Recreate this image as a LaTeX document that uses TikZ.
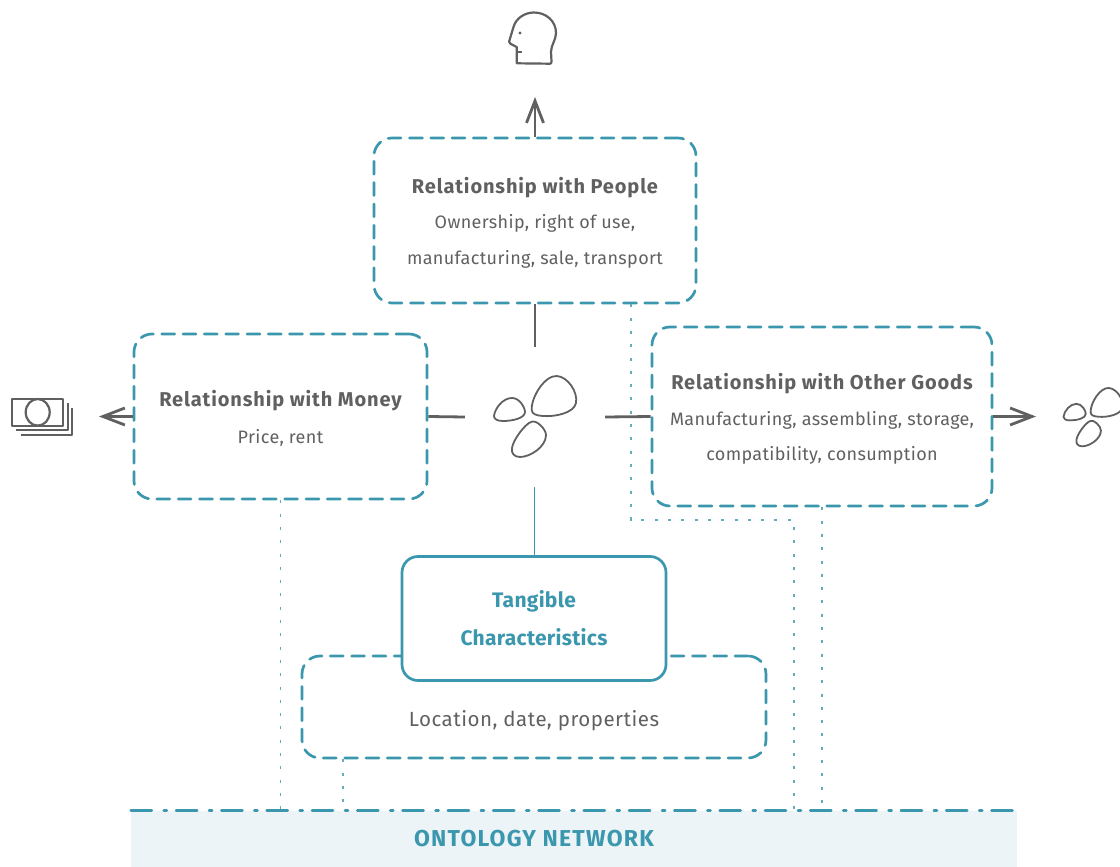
\documentclass[tikz,border=0pt]{standalone}
\usepackage{fontspec}
\setmainfont{Fira Sans}
\newfontfamily\bodyf[LetterSpace=2.0]{Fira Sans}
\newfontfamily\titlef[LetterSpace=4.4]{Fira Sans}
\newfontfamily\tangf[LetterSpace=1.4]{Fira Sans}
\newfontfamily\bandf[LetterSpace=5.4]{Fira Sans}
\newfontfamily\locf[LetterSpace=2.5]{Fira Sans}
\newcommand{\boxtitle}[1]{{\fontsize{20}{35.5}\titlef\bfseries #1}}
\usetikzlibrary{arrows.meta,calc}
\definecolor{teal1}{HTML}{3B97AE}
\definecolor{ink}{HTML}{606060}
\definecolor{bandfill}{HTML}{ECF4F7}
\tikzset{
  x=1pt,y=-1pt,
  dashbox/.style={draw=teal1,line width=2.7pt,rounded corners=18pt,dash pattern=on 13pt off 8.3pt,line cap=round,inner sep=0pt},
  boxtext/.style={align=center,text=ink,font=\fontsize{18}{35.5}\selectfont\bodyf,inner sep=0pt},
  solidbox/.style={draw=teal1,fill=white,line width=2.7pt,rounded corners=16pt,align=center,text=teal1,font=\fontsize{21}{38}\selectfont\tangf\bfseries,inner sep=0pt},
  grayline/.style={draw=ink,line width=2.8pt},
  grayarrow/.style={grayline,-{Straight Barb[length=22pt,width=17pt,line width=2.8pt]}},
  dotline/.style={draw=teal1!80,line width=1.2pt,dash pattern=on 3pt off 10.3pt},
  tealline/.style={draw=teal1,line width=1pt},
  bandedge/.style={draw=teal1,line width=2.7pt,line cap=round,dash pattern=on 21pt off 12pt on 3pt off 9.3pt},
  iconline/.style={draw=ink,line width=1.8pt,line join=round},
  labeltext/.style={text=ink,font=\fontsize{20.5}{24}\selectfont\locf,inner sep=0pt},
  bandtext/.style={text=teal1,font=\fontsize{23}{26}\selectfont\bandf\bfseries,inner sep=0pt},
  pics/stones/.style={code={
    \draw[iconline] (-3.3,-7) .. controls (-4,-20) and (10,-42) .. (22,-41) .. controls (33,-40) and (43,-25) .. (41,-14) .. controls (39,-4) and (20,0) .. (8,-1) .. controls (1,-1.5) and (-3,-3) .. (-3.3,-7) -- cycle;
    \draw[iconline] (-41,-1) .. controls (-40,-9) and (-32,-19) .. (-23,-19) .. controls (-15,-19) and (-10,-9) .. (-10,-5) .. controls (-10,1) and (-22,4) .. (-32,4) .. controls (-38,4) and (-41,2) .. (-41,-1) -- cycle;
    \draw[iconline] (-4,5) .. controls (1,2) and (11,12) .. (11,18) .. controls (11,30) and (-5,40) .. (-15,40) .. controls (-21,40) and (-24,36) .. (-23,31) .. controls (-22,23) and (-10,7) .. (-4,5) -- cycle;
  }}
}
\begin{document}
\begin{tikzpicture}
\useasboundingbox (0,0) rectangle (1120,867);
% band
\node[fill=bandfill,minimum width=886pt,minimum height=56pt,inner sep=0pt] (band) at (574,839) {};
\node[bandtext] (bandlabel) at (534,839) {ONTOLOGY NETWORK};
% boxes
\node[dashbox,minimum width=322pt,minimum height=165pt] (people) at (535,220.5) {};
\node[boxtext] (peopletext) at (535,222.5) {\boxtitle{Relationship with People}\\Ownership, right of use,\\manufacturing, sale, transport};
\node[dashbox,minimum width=293pt,minimum height=165pt] (money) at (280.5,416.5) {};
\node[boxtext] (moneytext) at (280.5,418) {\boxtitle{Relationship with Money}\\[1.5pt]Price, rent};
\node[dashbox,minimum width=340pt,minimum height=179pt] (goods) at (822,416.5) {};
\node[boxtext] (goodstext) at (822,419) {\boxtitle{Relationship with Other Goods}\\Manufacturing, assembling, storage,\\compatibility, consumption};
\node[dashbox,minimum width=464pt,minimum height=102pt] (loc) at (534,707) {};
\node[labeltext] (loclabel) at (534,720.5) {Location, date, properties};
\node[solidbox,minimum width=264pt,minimum height=124pt] (tang) at (534,618.5) {Tangible\\Characteristics};
% central stones
\node[minimum size=140pt,inner sep=0pt] (stones) at (535,417) {};
\pic at (stones.center) {stones};
% outer icons
\node[minimum width=48pt,minimum height=52pt,inner sep=0pt] (head) at (533,38) {};
\draw[iconline,line width=2.2pt] (516.7,63.3) -- (516.7,47) -- (510.5,43.8) .. controls (508.5,42.5) and (509,41) .. (510,38.5) -- (513.5,27) .. controls (516,18) and (525,12.5) .. (534,12.5) .. controls (546,12.5) and (556,21) .. (556,33) .. controls (556,40) and (551,45) .. (551,52) -- (551.5,61.5) .. controls (551.5,63) and (551,63.7) .. (550,63.7) -- cycle;
\draw[iconline,line width=1.6pt] (516.7,52.3) -- (522.3,52.3);
\fill[ink] (520,33) circle (1.6pt);
\node[minimum width=62pt,minimum height=38pt,inner sep=0pt] (cash) at (42,417) {};
\draw[iconline,line width=2.2pt] (12,399) rectangle (63,425.7);
\draw[iconline,line width=2.2pt] (37.7,412.3) ellipse (12pt and 13.3pt);
\draw[iconline] (67.7,403) -- (67.7,430) -- (16,430);
\draw[iconline] (72.3,408) -- (72.3,435) -- (20.7,435);
\node[minimum width=58pt,minimum height=60pt,inner sep=0pt] (stonesb) at (1091,417) {};
\pic[scale=.72] at (1093,417.5) {stones};
% connectors
\coordinate (uptip) at (535,97);
\coordinate (lefttip) at (99,416.5);
\coordinate (righttip) at (1036,416.5);
\draw[grayarrow] (people.north) -- (uptip);
\draw[grayarrow] (money.west) -- (lefttip);
\draw[grayarrow] (goods.east) -- (righttip);
\draw[grayline] (people.south) -- (stones.north);
\draw[grayline] (money.east) -- (stones.west);
\draw[grayline] (goods.west) -- (stones.east);
\draw[tealline] (tang.north) -- (stones.south -| tang.north);
\draw[dotline] (money.south) -- (money.south |- band.north);
\draw[dotline] (loc.south -| 343,0) -- (band.north -| 343,0);
\draw[dotline] (goods.south) -- (goods.south |- band.north);
\draw[dotline] (people.south -| 631,0) -- (631,520) -- (794,520) -- (band.north -| 794,0);
\draw[bandedge] (band.north west) -- (band.north east);
\end{tikzpicture}
\end{document}
